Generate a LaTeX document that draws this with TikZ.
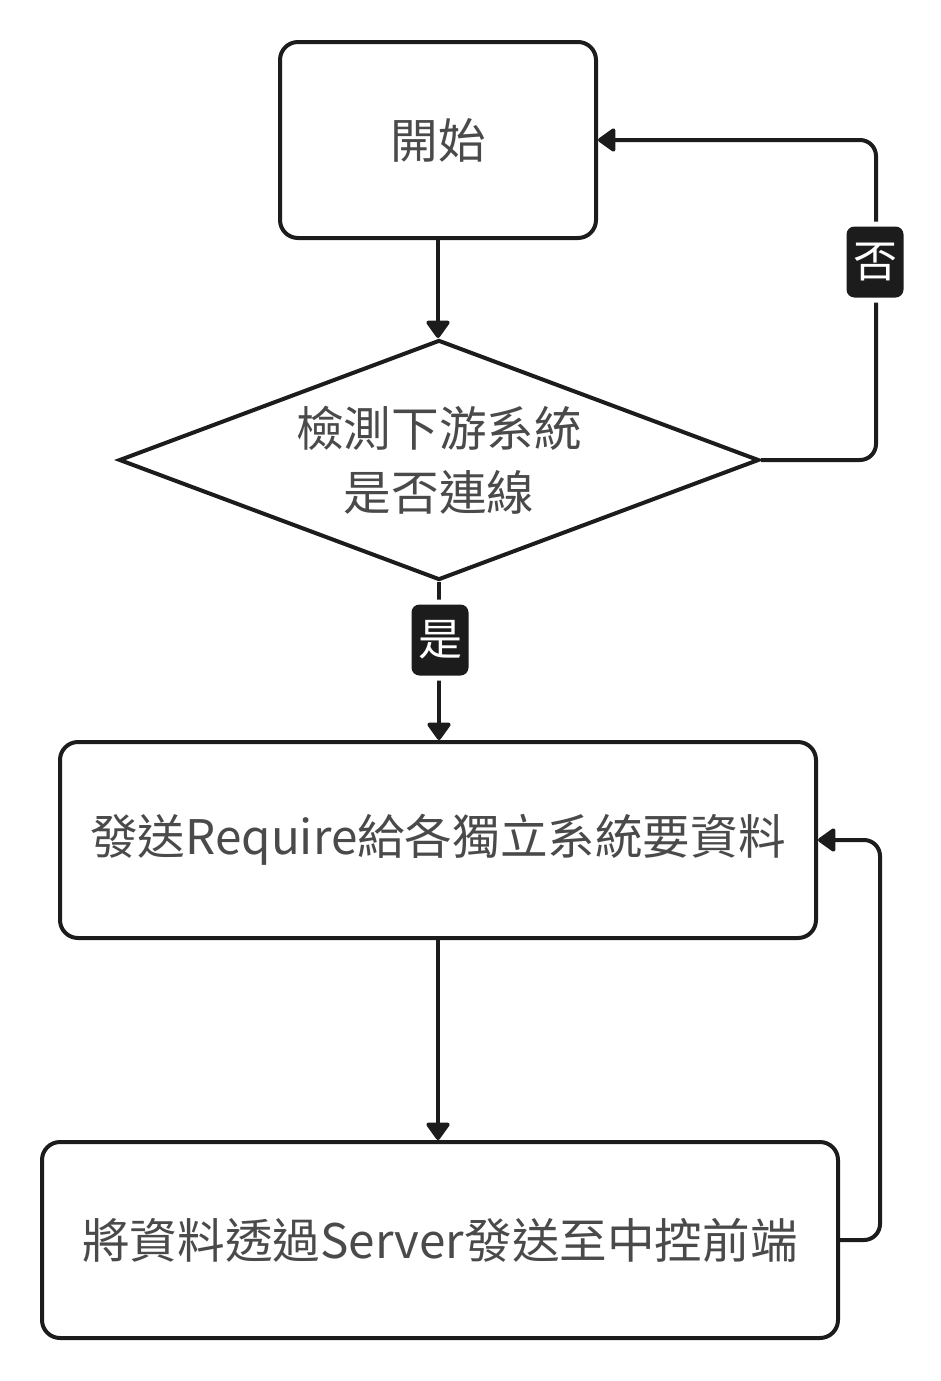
\documentclass[tikz,border=0pt]{standalone}
\usepackage{fontspec}
\newfontfamily\cjk{Noto Sans CJK TC}
\usetikzlibrary{shapes.geometric,arrows.meta}
\definecolor{ln}{HTML}{1C1C1C}
\definecolor{tx}{HTML}{4A4A4A}
\tikzset{
  box/.style={draw=ln, line width=2pt, rounded corners=9pt, fill=white, inner sep=0pt,
    minimum height=98pt, text=tx, font=\cjk\fontsize{23.8}{32}\selectfont},
  decision/.style={draw=ln, line width=2pt, diamond, shape aspect=2.667, inner sep=0pt,
    minimum width=320pt, minimum height=120pt, text=tx, align=center,
    font=\cjk\fontsize{23.8}{32}\selectfont},
  arr/.style={draw=ln, line width=2pt, -{Triangle[length=9.5pt,width=13pt,round]}},
  tag/.style={fill=ln, rounded corners=4pt, text=white, inner sep=0pt,
    minimum width=28.5pt, minimum height=35.5pt, font=\cjk\fontsize{22}{26}\selectfont,
    preaction={draw=white, line width=5pt}}
}
\begin{document}
\begin{tikzpicture}[x=0.5pt,y=-0.5pt]
\useasboundingbox (0,0) rectangle (941,1381);
\node[box, minimum width=158pt] (start) at (438,140) {開始};
\node[decision] (dia) at (439,460) {檢測下游系統\\是否連線};
\node[box, minimum width=378pt] (b2) at (438,840) {發送Require給各獨立系統要資料};
\node[box, minimum width=398pt] (b3) at (440,1240) {將資料透過Server發送至中控前端};
\coordinate (noc) at (876,140);
\coordinate (lc) at (880,840);
\draw[arr] (start.south) -- (start.south |- dia.north);
\draw[arr, rounded corners=8pt] (dia.east) -| (noc) -- (start.east);
\draw[arr] (dia.south) -- (dia.south |- b2.north);
\draw[arr] (b2.south) -- (b2.south |- b3.north);
\draw[arr, rounded corners=8pt] (b3.east) -| (lc) -- (b2.east);
\node[tag] (no) at (875,262) {否};
\node[tag] (yes) at (440,640) {是};
\end{tikzpicture}
\end{document}
